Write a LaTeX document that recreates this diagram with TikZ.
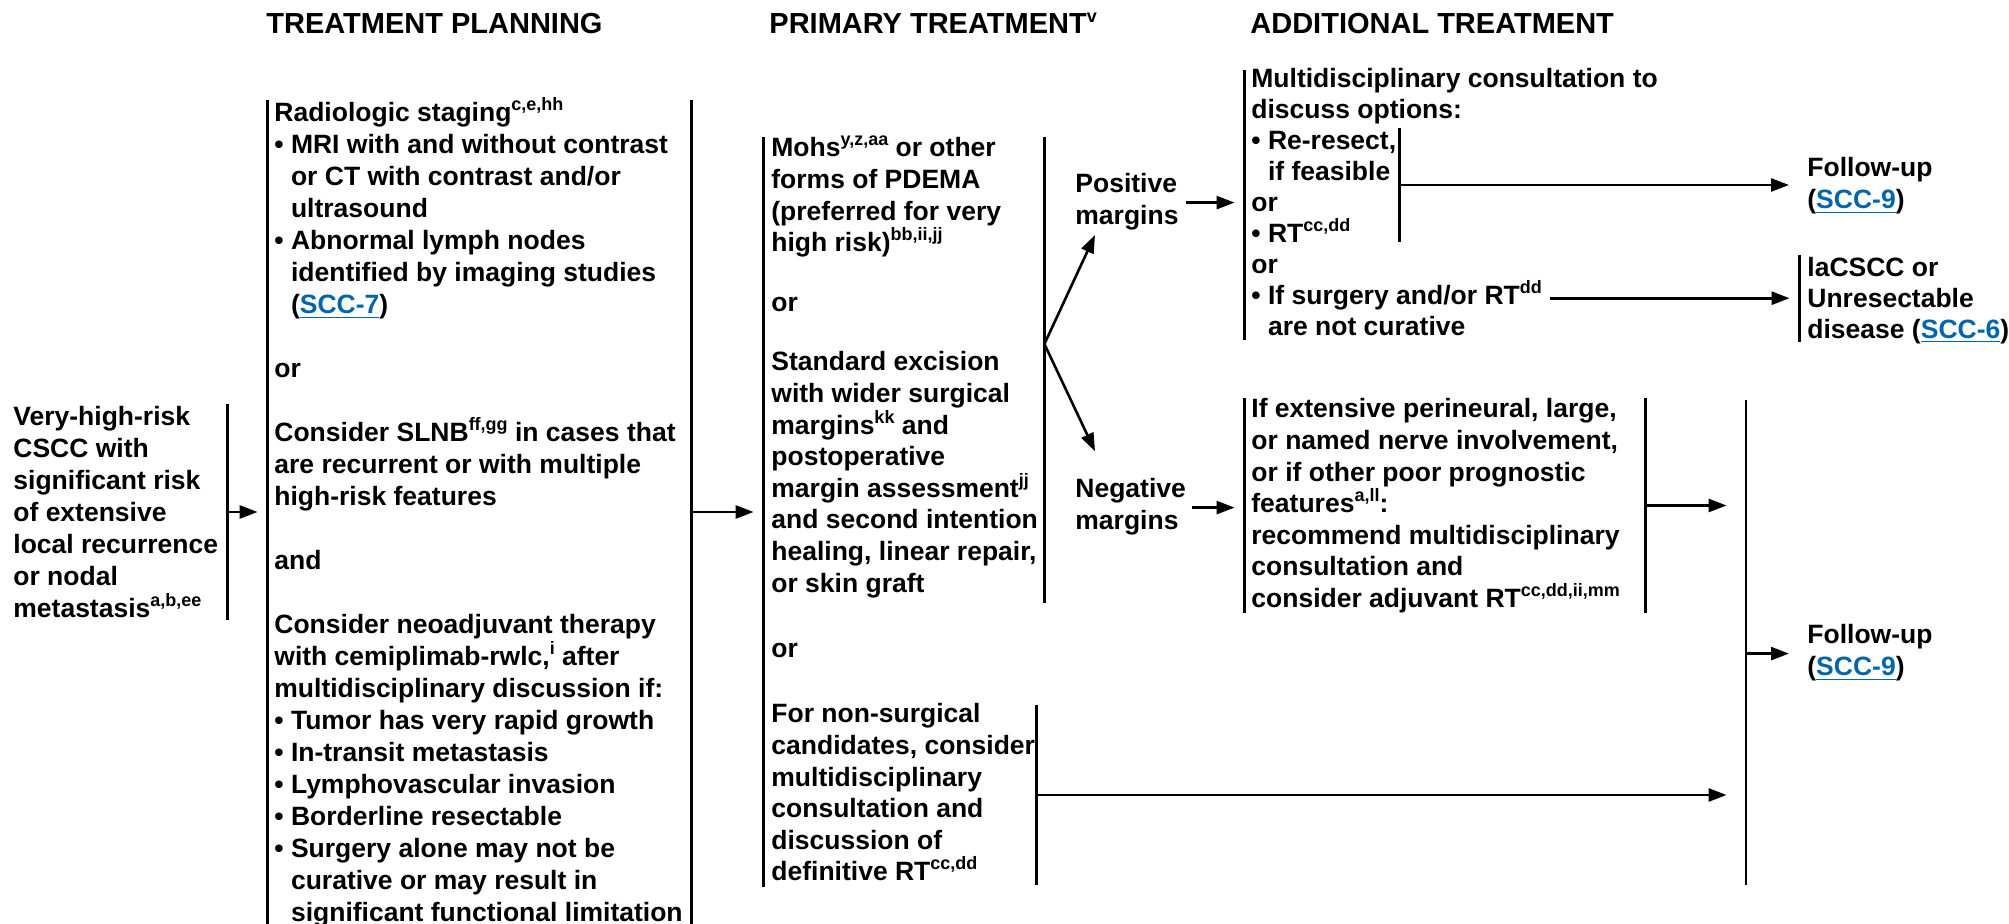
\documentclass[tikz,border=0pt]{standalone}
\usepackage{fontspec}
\setmainfont{Liberation Sans}
\usetikzlibrary{arrows.meta,fit}
\definecolor{linkblue}{RGB}{0,101,170}
\newcommand{\bodyfont}[1][16]{\fontsize{13.25}{#1}\selectfont\bfseries}
\newcommand{\headfont}{\fontsize{14.5}{17}\selectfont\bfseries}
\newcommand{\sups}[1]{\smash{\raisebox{5.5pt}{\fontsize{9}{9}\selectfont #1}}}
\newcommand{\lnk}[1]{\textcolor{linkblue}{\underline{#1}}}
\newcommand{\stackl}[1]{\begin{tabular}[t]{@{}l@{}}#1\end{tabular}}
\newcommand{\indt}{\phantom{• }}

\begin{document}
\begin{tikzpicture}[x=0.5pt,y=-0.5pt,
  bar/.style={line width=1.3pt},
  arr/.style={bar,-{Triangle[length=9pt,width=6.5pt]},shorten >=5pt},
  frame/.style={inner sep=0pt},
  txt/.style={anchor=base west,inner sep=0pt,font=\bodyfont},
  head/.style={anchor=base west,inner sep=0pt,font=\headfont}]
\useasboundingbox (0,0) rectangle (2009,924);

% headings
\node[head] (hPlan) at (266,34) {TREATMENT PLANNING};
\node[head] (hPrim) at (769,34) {PRIMARY TREATMENT\sups{v}};
\node[head] (hAddl) at (1250,34) {ADDITIONAL TREATMENT};

% boxes (only their bars are drawn)
\node[frame, fit={(8,404) (227,620)}] (start) {};
\node[frame, fit={(268,100) (691,924)}] (plan) {};
\node[frame, fit={(764,137) (1044,887)}] (prim) {};
\node[frame, fit={(764,137) (1044,603)}] (mohs) {};
\node[frame, fit={(764,705) (1036,885)}] (nonsurg) {};
\node[frame, fit={(1245,70) (1660,340)}] (posbox) {};
\node[frame, fit={(1245,128) (1399,242)}] (resect) {};
\node[frame, fit={(1800,255) (2009,342)}] (lacscc) {};
\node[frame, fit={(1245,398) (1645,613)}] (negbox) {};
\node[frame, fit={(1746,400) (1746,885)}] (join) {};

% texts
\node[txt] (startTxt) at (13,426) {\stackl{Very-high-risk\\CSCC with\\significant risk\\of extensive\\local recurrence\\or nodal\\metastasis\sups{a,b,ee}}};

\node[txt] (planTxt) at (274,122) {\stackl{Radiologic staging\sups{c,e,hh}\\
• MRI with and without contrast\\
\indt or CT with contrast and/or\\
\indt ultrasound\\
• Abnormal lymph nodes\\
\indt identified by imaging studies\\
\indt (\lnk{SCC-7})\\
\\
or\\
\\
Consider SLNB\sups{ff,gg} in cases that\\
are recurrent or with multiple\\
high-risk features\\
\\
and\\
\\
Consider neoadjuvant therapy\\
with cemiplimab-rwlc,\sups{i} after\\
multidisciplinary discussion if:\\
• Tumor has very rapid growth\\
• In-transit metastasis\\
• Lymphovascular invasion\\
• Borderline resectable\\
• Surgery alone may not be\\
\indt curative or may result in\\
\indt significant functional limitation}};

\node[txt, font={\bodyfont[15.8]}] (mohsTxt) at (771,157) {\stackl{Mohs\sups{y,z,aa} or other\\
forms of PDEMA\\
(preferred for very\\
high risk)\sups{bb,ii,jj}\\[14pt]
or\\[14pt]
Standard excision\\
with wider surgical\\
margins\sups{kk} and\\
postoperative\\
margin assessment\sups{jj}\\
and second intention\\
healing, linear repair,\\
or skin graft}};
\node[txt] (orTxt) at (771,658) {or};
\node[txt, font={\bodyfont[15.8]}] (nonsurgTxt) at (771,723) {\stackl{For non-surgical\\candidates, consider\\multidisciplinary\\consultation and\\discussion of\\definitive RT\sups{cc,dd}}};

\node[txt] (pos) at (1075,193) {\stackl{Positive\\margins}};
\node[txt] (neg) at (1075,498) {\stackl{Negative\\margins}};

\node[txt, font={\bodyfont[15.5]}] (posTxt) at (1251,88) {\stackl{Multidisciplinary consultation to\\
discuss options:\\
• Re-resect,\\
\indt if feasible\\
or\\
• RT\sups{cc,dd}\\
or}};
\node[txt] (surg) at (1251,305) {• If surgery and/or RT\sups{dd}};
\node[txt] (curTxt) at (1251,336) {\indt are not curative};

\node[txt, font={\bodyfont[15.8]}] (negTxt) at (1251,418) {\stackl{If extensive perineural, large,\\
or named nerve involvement,\\
or if other poor prognostic\\
features\sups{a,ll}:\\
recommend multidisciplinary\\
consultation and\\
consider adjuvant RT\sups{cc,dd,ii,mm}}};

\node[txt, inner xsep=4pt] (fu1) at (1799,177) {\stackl{Follow-up\\(\lnk{SCC-9})}};
\node[txt, font={\bodyfont[15.3]}] (lacTxt) at (1807,277) {\stackl{laCSCC or\\Unresectable\\disease (\lnk{SCC-6})}};
\node[txt, inner xsep=4pt] (fu2) at (1799,644) {\stackl{Follow-up\\(\lnk{SCC-9})}};

% bars
\draw[bar] (start.north east) -- (start.south east);
\draw[bar] (plan.north west) -- (plan.south west);
\draw[bar] (plan.north east) -- (plan.south east);
\draw[bar] (prim.north west) -- (prim.south west);
\draw[bar] (mohs.north east) -- (mohs.south east);
\draw[bar] (nonsurg.north east) -- (nonsurg.south east);
\draw[bar] (posbox.north west) -- (posbox.south west);
\draw[bar] (resect.north east) -- (resect.south east);
\draw[bar] (lacscc.north west) -- (lacscc.south west);
\draw[bar] (negbox.north west) -- (negbox.south west);
\draw[bar] (negbox.north east) -- (negbox.south east);
\draw[bar] (join.north) -- (join.south);

% connectors
\draw[arr] (start.east) -- (plan.west);
\draw[arr] (plan.east) -- (prim.west);
\coordinate (fork) at ([yshift=13pt]mohs.east);
\draw[arr, shorten >=0pt] (fork) -- ([xshift=10pt]pos.south west);
\draw[arr, shorten >=0pt] (fork) -- ([xshift=10pt,yshift=12pt]neg.north west);
\draw[arr] (pos.east -| neg.east) -- (pos.east -| posbox.west);
\draw[arr, shorten <=3pt] (neg.east) -- (neg.east -| negbox.west);
\draw[arr] (resect.east) -- (resect.east -| fu1.west);
\draw[arr, shorten <=4pt] (surg.east) -- (surg.east -| lacscc.west);
\draw[arr, shorten >=9pt] (negbox.east) -- (negbox.east -| join.west);
\draw[arr, shorten >=9pt] (nonsurg.east) -- (nonsurg.east -| join.west);
\draw[arr] (fu2.west -| join.east) -- (fu2.west);

\end{tikzpicture}
\end{document}
